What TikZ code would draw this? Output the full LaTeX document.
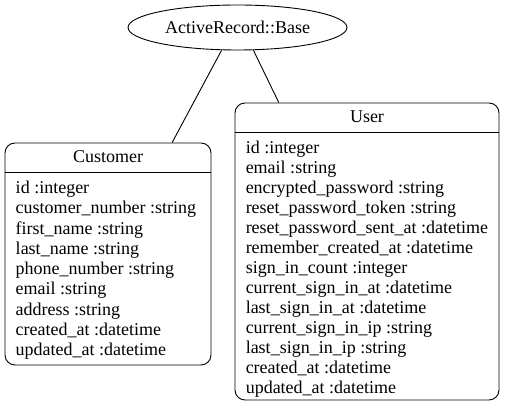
\documentclass[tikz,border=0pt]{standalone}
\usepackage{fontspec}
\setmainfont{Liberation Serif}
\usetikzlibrary{shapes.geometric,calc}
\begin{document}
\begin{tikzpicture}[x=1pt,y=-1pt,
  every node/.style={font=\fontsize{18}{20}\selectfont, inner sep=0pt},
  box/.style={draw, line width=0.9pt, rounded corners=10pt, inner sep=0pt},
  oval/.style={draw, ellipse, line width=0.9pt, inner sep=0pt},
  row/.style={anchor=base west},
  title/.style={anchor=base},
  sep/.style={line width=0.9pt},
  link/.style={draw, line width=0.9pt}]
\useasboundingbox (0,0) rectangle (507,411);
% base class
\node[oval, minimum width=219pt, minimum height=45pt] (base) at (237.5,27.5) {ActiveRecord::Base};
% Customer
\node[box, minimum width=206pt, minimum height=222pt] (cust) at (108,254) {};
\node[title] (custtitle) at ($(cust.north)+(0,20)$) {Customer};
\draw[sep] ($(cust.north west)+(0,30)$) -- ($(cust.north east)+(0,30)$);
\foreach [count=\i] \t in {id :integer, customer\_number :string, first\_name :string, last\_name :string, phone\_number :string, email :string, address :string, created\_at :datetime, updated\_at :datetime}
  \node[row] (c\i) at ($(cust.north west)+(11,{51+20.25*(\i-1)})$) {\t};
% User
\node[box, minimum width=264pt, minimum height=297pt] (user) at (367,251.5) {};
\node[title] (usertitle) at ($(user.north)+(0,20)$) {User};
\draw[sep] ($(user.north west)+(0,30)$) -- ($(user.north east)+(0,30)$);
\foreach [count=\i] \t in {id :integer, email :string, encrypted\_password :string, reset\_password\_token :string, reset\_password\_sent\_at :datetime, remember\_created\_at :datetime, sign\_in\_count :integer, current\_sign\_in\_at :datetime, last\_sign\_in\_at :datetime, current\_sign\_in\_ip :string, last\_sign\_in\_ip :string, created\_at :datetime, updated\_at :datetime}
  \node[row] (u\i) at ($(user.north west)+(11,{51+20*(\i-1)})$) {\t};
% inheritance links
\draw[link] (base.235) -- ($(cust.north west)!0.81!(cust.north east)$);
\draw[link] (base.305) -- ($(user.north west)!0.167!(user.north east)$);
\end{tikzpicture}
\end{document}
